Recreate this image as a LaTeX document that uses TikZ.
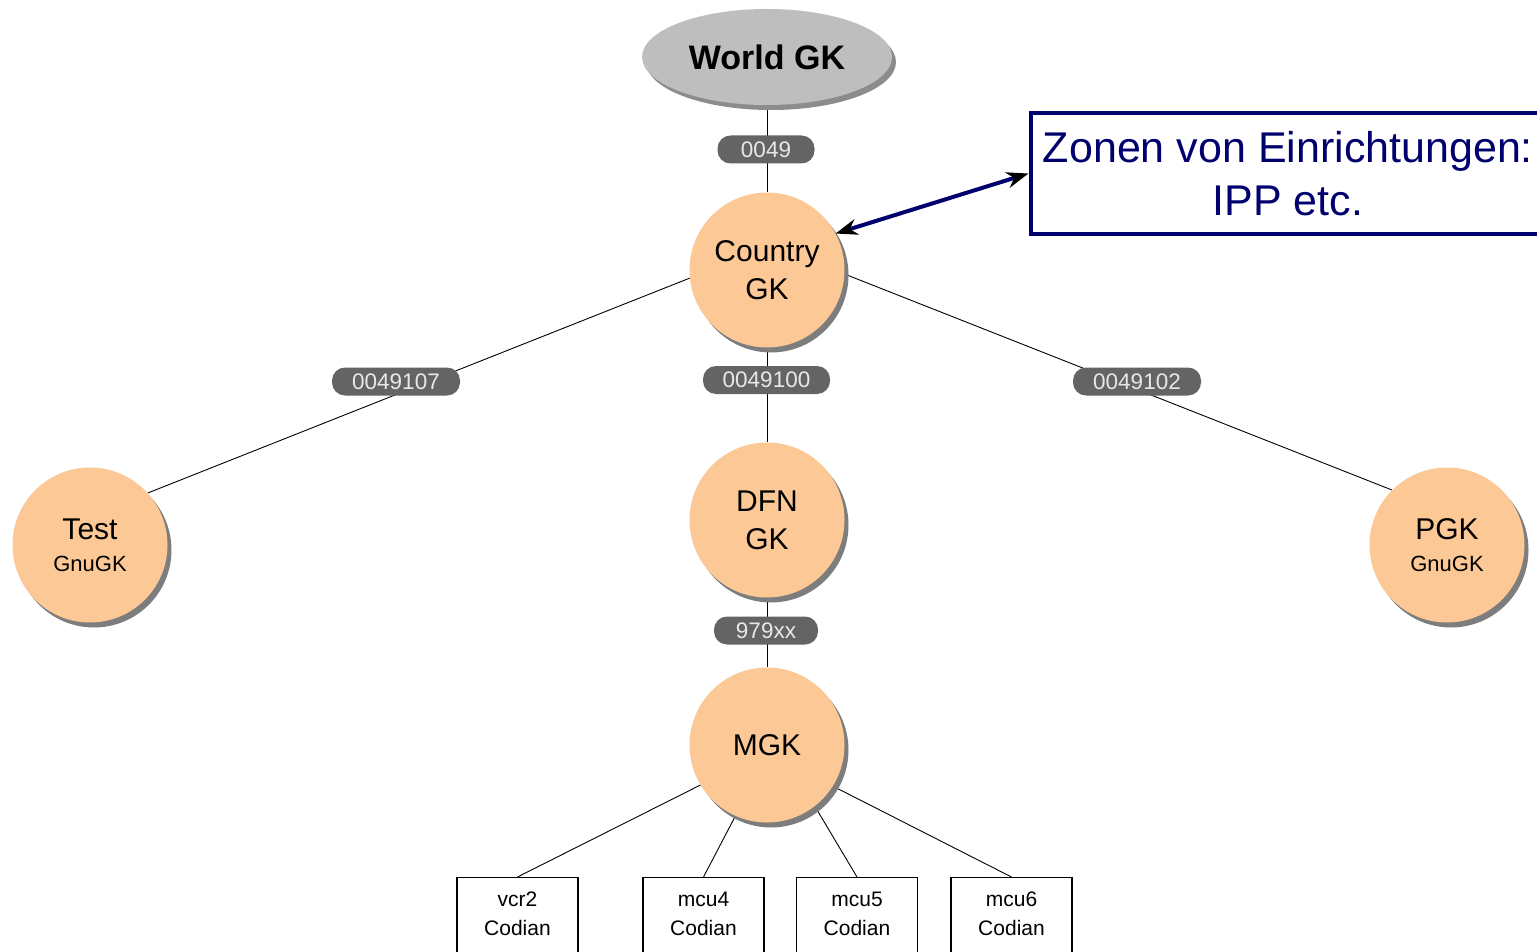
\documentclass[tikz,border=0pt]{standalone}
\usepackage{fontspec}
\setmainfont{Liberation Sans}
\usetikzlibrary{shapes.geometric,shadows,arrows.meta,backgrounds}
\definecolor{peach}{RGB}{252,200,150}
\definecolor{shadowgray}{RGB}{125,125,125}
\definecolor{worldgray}{RGB}{190,190,190}
\definecolor{worldshadow}{RGB}{140,140,140}
\definecolor{pilldark}{RGB}{100,100,100}
\definecolor{pilltext}{RGB}{232,232,232}
\definecolor{navy}{RGB}{0,0,110}
\tikzset{
  gk/.style={circle, fill=peach, minimum size=155pt, inner sep=0pt, align=center,
    drop shadow={shadow xshift=4pt, shadow yshift=-5pt, fill=shadowgray, opacity=1}},
  pill/.style={fill=pilldark, text=pilltext, rounded corners=13pt, minimum height=28pt,
    inner sep=0pt, font=\fontsize{22.5}{22.5}\selectfont},
  edge/.style={draw=black, line width=0.9pt},
  devbox/.style={draw=black, line width=1.2pt, minimum width=121pt, minimum height=130pt,
    anchor=north, inner sep=0pt},
  devtext/.style={align=center, inner sep=0pt, font=\fontsize{21}{29}\selectfont},
}
\begin{document}
\begin{tikzpicture}[x=1pt,y=-1pt]
\path[use as bounding box, clip] (0,0) rectangle (1537,952);

% main nodes
\node[ellipse, fill=worldgray, minimum width=250pt, minimum height=96pt, inner sep=0pt,
  drop shadow={shadow xshift=4pt, shadow yshift=-5pt, fill=worldshadow, opacity=1},
  font=\bfseries\fontsize{34}{34}\selectfont] (world) at (767,57) {World GK};
\node[gk, font=\fontsize{30}{38}\selectfont] (country) at (767,270) {Country\\GK};
\node[gk, font=\fontsize{30}{38}\selectfont] (dfn) at (767,520) {DFN\\GK};
\node[gk, font=\fontsize{30}{38}\selectfont] (mgk) at (767,745) {MGK};
\node[gk, font=\fontsize{22}{32}\selectfont] (test) at (90,545) {{\fontsize{30}{32}\selectfont Test}\\GnuGK};
\node[gk, font=\fontsize{22}{32}\selectfont] (pgk) at (1447,545) {{\fontsize{30}{32}\selectfont PGK}\\GnuGK};

% device boxes
\node[devbox] (vcr2) at (517.5,877) {};
\node[devbox] (mcu4) at (703.5,877) {};
\node[devbox] (mcu5) at (857,877) {};
\node[devbox] (mcu6) at (1011.5,877) {};
\node[devtext] (vcr2t) at (517.5,914) {vcr2\\Codian};
\node[devtext] (mcu4t) at (703.5,914) {mcu4\\Codian};
\node[devtext] (mcu5t) at (857,914) {mcu5\\Codian};
\node[devtext] (mcu6t) at (1011.5,914) {mcu6\\Codian};

% edge labels
\node[pill, minimum width=97pt] (l0049) at (766,149.5) {0049};
\node[pill, minimum width=128pt] (l107) at (396,381.5) {0049107};
\node[pill, minimum width=127pt] (l100) at (766.5,380) {0049100};
\node[pill, minimum width=128pt] (l102) at (1137,381.5) {0049102};
\node[pill, minimum width=104pt] (l979) at (766,630.5) {979xx};

% connectors (behind)
\begin{scope}[on background layer]
  \draw[edge] (world) -- (country);
  \draw[edge] (country) -- (dfn);
  \draw[edge] (dfn) -- (mgk);
  \draw[edge] (country.186) -- (test.42);
  \draw[edge] (country.-3.5) -- (pgk.135.5);
  \draw[edge] (mgk.211.5) -- (vcr2.north);
  \draw[edge] (mgk.246) -- (mcu4.north);
  \draw[edge] (mgk.308.6) -- (mcu5.north);
  \draw[edge] (mgk.328) -- (mcu6.north);
\end{scope}

% annotation
\node[draw=navy, line width=4pt, fill=white, minimum width=515pt, minimum height=121pt,
  inner sep=0pt, align=center, text=navy, font=\fontsize{43}{53}\selectfont]
  (note) at (1288,173.5) {Zonen von Einrichtungen:\\IPP etc.};
\draw[navy, line width=4pt,
  {Stealth[length=22pt,width=16pt,color=black]}-{Stealth[length=22pt,width=16pt,color=black]}]
  (country.28) -- (note.west);
\end{tikzpicture}
\end{document}
